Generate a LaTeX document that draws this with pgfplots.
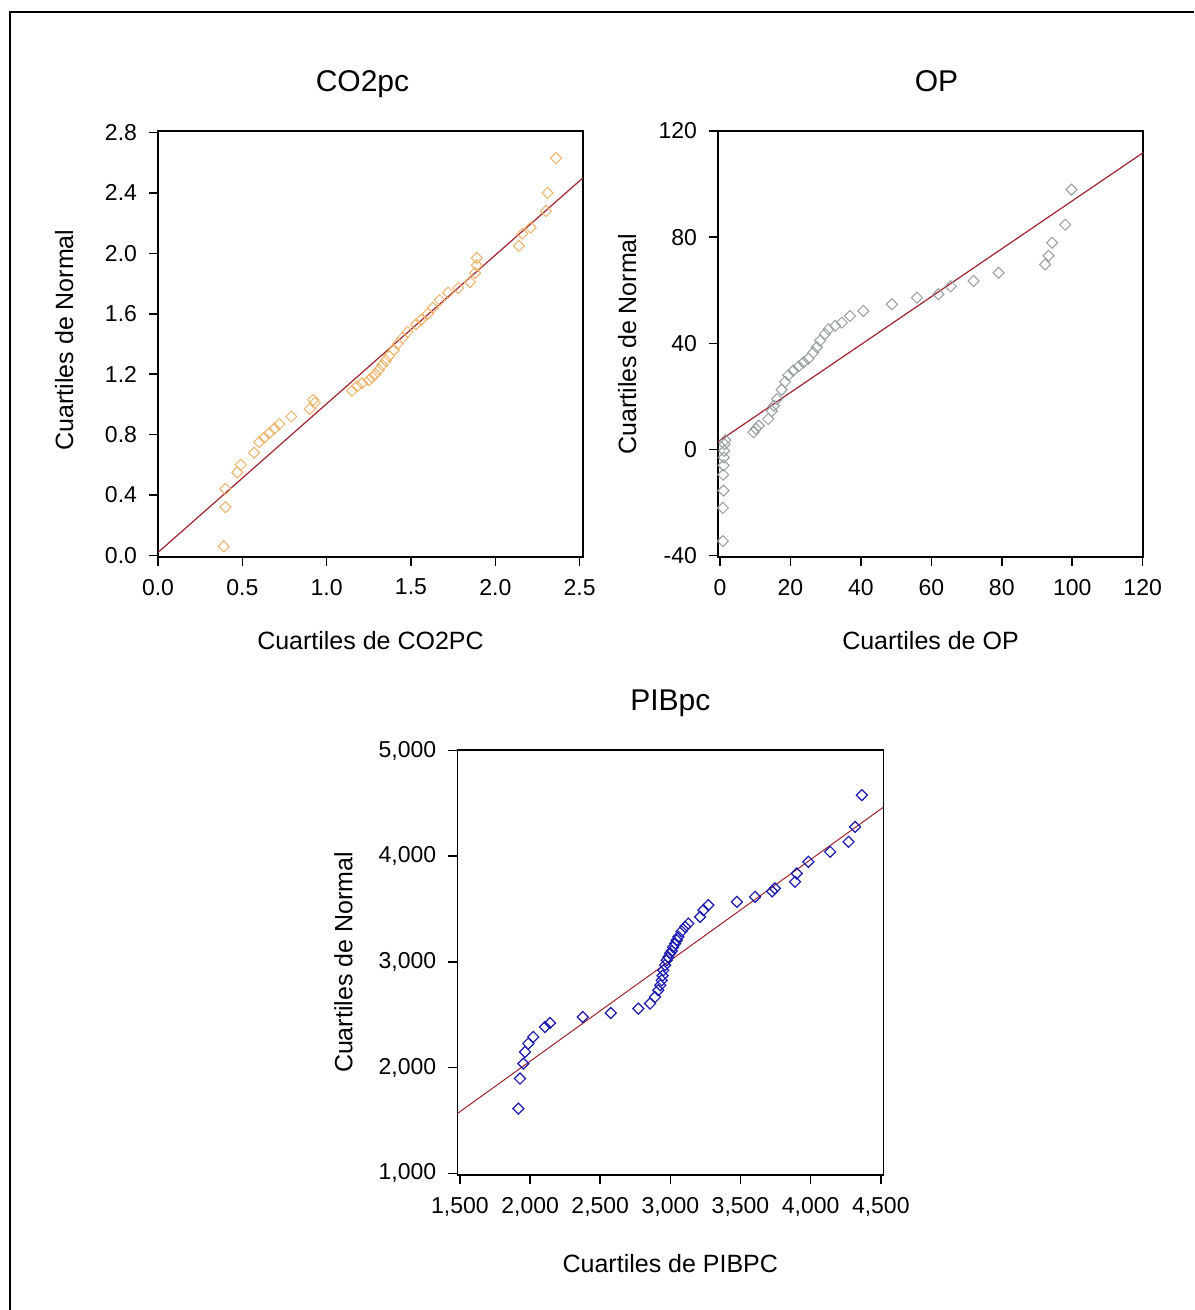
\documentclass[border=0pt]{standalone}
\usepackage{fontspec}
\setmainfont{Liberation Sans}
\usepackage{pgfplots}
\pgfplotsset{compat=1.18}

\definecolor{fitred}{RGB}{160,35,45}
\definecolor{co2col}{RGB}{238,178,105}
\definecolor{opcol}{RGB}{150,158,160}
\definecolor{pibcol}{RGB}{25,25,175}

\pgfplotsset{qq/.style={
  scale only axis,
  axis line style={line width=0.8pt},
  tick align=outside,
  xtick pos=left, ytick pos=left,
  major tick length=4.5pt,
  tick style={black, line width=0.8pt},
  ticklabel style={font=\fontsize{11.5}{13}\selectfont},
  xticklabel style={yshift=-3pt},
  yticklabel style={xshift=-2.5pt},
  /pgf/number format/assume math mode=true,
  scaled ticks=false,
  every axis plot/.append style={line width=0.7pt},
}}

\begin{document}
\begin{tikzpicture}
\useasboundingbox (0,0) rectangle (597pt,655pt);
\draw[line width=1pt] (5pt,0) -- (5pt,649pt) -- (597pt,649pt);

% ---------------- CO2pc
\begin{axis}[qq, name=a1, at={(79pt,376.5pt)}, anchor=south west,
  width=212.5pt, height=213pt,
  xmin=0, xmax=2.52, ymin=-0.01, ymax=2.81,
  xtick={0,0.5,1,1.5,2,2.5}, ytick={0,0.4,0.8,1.2,1.6,2.0,2.4,2.8},
  xticklabel style={/pgf/number format/.cd, fixed, fixed zerofill, precision=1},
  yticklabel style={/pgf/number format/.cd, fixed, fixed zerofill, precision=1},
]
\addplot[fitred, line width=0.6pt] coordinates {(0,0.02) (2.52,2.50)};
\addplot[only marks, mark=square, mark size=1.95pt, mark options={rotate=45, draw=co2col, line width=0.5pt}] coordinates {
(0.39,0.06) (0.40,0.32) (0.40,0.44) (0.47,0.55) (0.49,0.60) (0.57,0.68)
(0.60,0.75) (0.63,0.78) (0.66,0.81) (0.69,0.84) (0.72,0.87) (0.79,0.92)
(0.90,0.97) (0.92,1.03) (0.93,1.01) (1.15,1.09) (1.18,1.12) (1.21,1.14)
(1.25,1.16) (1.27,1.18) (1.29,1.20) (1.31,1.23) (1.33,1.26) (1.35,1.29)
(1.37,1.32) (1.40,1.36) (1.42,1.40) (1.45,1.44) (1.48,1.48) (1.53,1.53)
(1.56,1.56) (1.60,1.60) (1.63,1.64) (1.67,1.69) (1.72,1.74) (1.78,1.77)
(1.85,1.81) (1.88,1.87) (1.89,1.92) (1.89,1.97) (2.14,2.05) (2.16,2.13)
(2.21,2.17) (2.30,2.28) (2.31,2.40) (2.36,2.63)
};
\end{axis}

% ---------------- OP
\begin{axis}[qq, name=a2, at={(359pt,376.5pt)}, anchor=south west,
  width=212.5pt, height=213pt,
  xmin=-0.57, xmax=120.1, ymin=-40.5, ymax=120,
  xtick={0,20,40,60,80,100,120}, ytick={-40,0,40,80,120},
]
\addplot[fitred, line width=0.6pt] coordinates {(-0.57,2.9) (120.1,111.8)};
\addplot[only marks, mark=square, mark size=1.95pt, mark options={rotate=45, draw=opcol, line width=0.5pt}] coordinates {
(0.8,-34.5) (0.8,-22) (1.0,-15.5) (0.9,-9.5) (1.0,-6) (1.1,-3) (1.2,-0.5)
(1.3,2) (1.5,3.5) (9.5,6.5) (10.2,7.8) (11,9) (13.7,11.5) (14.7,14.5)
(15.3,16.5) (16.2,19) (17.5,22.5) (18.5,25.5) (19.4,28) (20.8,29.7)
(22.3,31.3) (23.7,32.8) (25.1,34.2) (26.5,36.5) (27.5,38.5) (28.4,41)
(29.8,43.5) (30.8,45.3) (32.7,46.6) (34.6,47.8) (36.9,50.3) (40.7,52.2)
(48.8,54.7) (55.9,57.2) (62,58.5) (65.5,61.5) (72,63.5) (79.1,66.6)
(92.3,69.7) (93.3,73) (94.3,77.9) (98,84.7) (99.8,97.9)
};
\end{axis}

% ---------------- PIBpc
\begin{axis}[qq, name=a3, at={(228.65pt,67.5pt)}, anchor=south west,
  width=213pt, height=212.5pt,
  xmin=1481, xmax=4518, ymin=984, ymax=5005,
  xtick={1500,2000,2500,3000,3500,4000,4500},
  ytick={1000,2000,3000,4000,5000},
  /pgf/number format/1000 sep={,},
]
\addplot[fitred, line width=0.5pt] coordinates {(1481,1565) (4518,4463)};
\addplot[only marks, mark=square, mark size=1.95pt, mark options={rotate=45, draw=pibcol, line width=0.6pt}] coordinates {
(1916,1612) (1928,1896) (1952,2038) (1964,2148) (1987,2227) (2023,2290)
(2106,2384) (2142,2422) (2375,2479) (2575,2517) (2772,2558) (2855,2606)
(2891,2668) (2914,2732) (2928,2780) (2938,2826) (2945,2870) (2950,2921)
(2962,2970) (2974,3016) (2985,3045) (2998,3080) (3010,3104) (3020,3140)
(3034,3174) (3045,3205) (3057,3237) (3080,3290) (3105,3332) (3128,3363)
(3212,3426) (3236,3490) (3271,3537) (3474,3568) (3604,3616) (3725,3668)
(3745,3695) (3889,3758) (3901,3837) (3984,3947) (4139,4042) (4270,4136)
(4317,4278) (4365,4578)
};
\end{axis}

% titles
\node[anchor=base, font=\fontsize{15}{18}\selectfont] at ([xshift=-4pt,yshift=19.5pt]a1.north) {CO2pc};
\node[anchor=base, font=\fontsize{15}{18}\selectfont] at ([xshift=3pt,yshift=19.5pt]a2.north) {OP};
\node[anchor=base, font=\fontsize{15}{18}\selectfont] at ([yshift=19.5pt]a3.north) {PIBpc};
% x labels
\node[anchor=base, font=\fontsize{12.5}{15}\selectfont] at ([yshift=-46.5pt]a1.south) {Cuartiles de CO2PC};
\node[anchor=base, font=\fontsize{12.5}{15}\selectfont] at ([yshift=-46.5pt]a2.south) {Cuartiles de OP};
\node[anchor=base, font=\fontsize{12.5}{15}\selectfont] at ([yshift=-49pt]a3.south) {Cuartiles de PIBPC};
% y labels
\node[anchor=base, rotate=90, font=\fontsize{12.5}{15}\selectfont] at ([xshift=-42.5pt,yshift=2pt]a1.west) {Cuartiles de Normal};
\node[anchor=base, rotate=90, font=\fontsize{12.5}{15}\selectfont] at ([xshift=-41pt]a2.west) {Cuartiles de Normal};
\node[anchor=base, rotate=90, font=\fontsize{12.5}{15}\selectfont] at ([xshift=-52.5pt]a3.west) {Cuartiles de Normal};
\end{tikzpicture}
\end{document}
